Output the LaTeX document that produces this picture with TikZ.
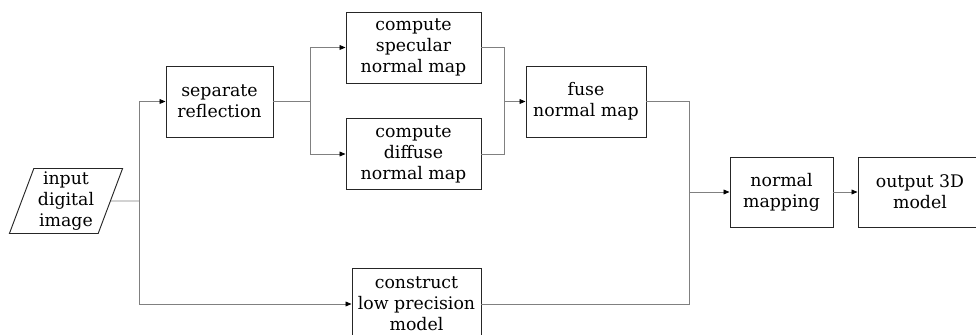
\documentclass[tikz,border=0pt]{standalone}
\usepackage{fontspec}
\setmainfont{DejaVu Serif}
\usepackage{tikz}
\usetikzlibrary{arrows.meta,shapes.geometric}

\tikzset{
    block/.style={draw=black!85,line width=0.7pt,align=center,inner sep=1pt,
                  minimum height=53.25pt,font=\fontsize{13}{15.75}\selectfont},
    link/.style={draw=black!50,line width=0.6pt},
    flow/.style={link,-{Triangle[length=4.5pt,width=3.6pt,black]}},
}

\begin{document}
\begin{tikzpicture}[x=0.75pt,y=-0.75pt]
        \useasboundingbox (0,0) rectangle (976,335);
        \clip (0,0) rectangle (976,335);

        \node (Input)     at (66,201)      [block,shape=trapezium,trapezium left angle=70,
                                           trapezium right angle=110,trapezium stretches=true,
                                           minimum width=85.5pt,minimum height=48.75pt] {input\\digital\\image};
        \node (Sep)       at (219.5,101.5) [block,minimum width=80.25pt] {separate\\reflection};
        \node (Spec)      at (413.5,47.5)  [block,minimum width=101.25pt] {compute\\specular\\normal map};
        \node (Diff)      at (413.5,154)   [block,minimum width=101.25pt] {compute\\diffuse\\normal map};
        \node (Fuse)      at (586,101.5)   [block,minimum width=90pt] {fuse\\normal map};
        \node (Construct) at (416.5,304)   [block,minimum width=96.75pt] {construct\\low precision\\model};
        \node (Map)       at (781.5,192)   [block,minimum width=77.25pt,minimum height=52.5pt] {normal\\mapping};
        \node (Output)    at (920,192)     [block,minimum width=93pt,minimum height=52.5pt] {output 3D\\model};

        \coordinate (Jin)   at (139,201);
        \coordinate (Jsep)  at (310,101.5);
        \coordinate (Jfuse) at (504,101.5);
        \coordinate (Jout)  at (689,192);

        % input splits into the two branches
        \draw[link] (Input.east) -- (Jin);
        \draw[flow] (Jin) |- (Sep.west);
        \draw[flow] (Jin) |- (Construct.west);

        % specular / diffuse split and merge
        \draw[link] (Sep.east) -- (Jsep);
        \draw[flow] (Jsep) |- (Spec.west);
        \draw[flow] (Jsep) |- (Diff.west);
        \draw[link] (Spec.east) -| (Jfuse);
        \draw[link] (Diff.east) -| (Jfuse);
        \draw[flow] (Jfuse) -- (Fuse.west);

        % both models meet before the mapping step
        \draw[link] (Fuse.east) -| (Jout);
        \draw[link] (Construct.east) -| (Jout);
        \draw[flow] (Jout) -- (Map.west);
        \draw[flow] (Map) -- (Output);
    \end{tikzpicture}
\end{document}
